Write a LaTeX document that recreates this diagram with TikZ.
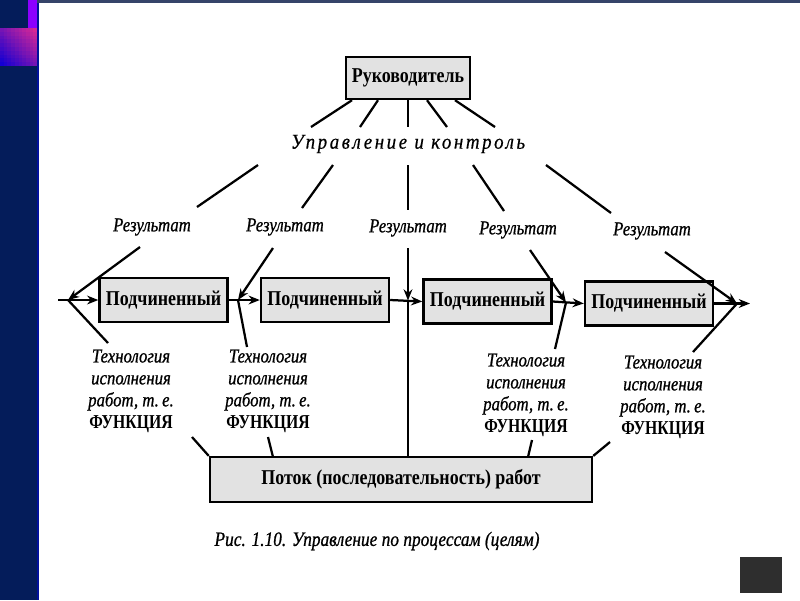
\documentclass[tikz,border=0pt]{standalone}
\usepackage{fontspec}
\setmainfont{Liberation Serif}
\newfontfamily\spacedfont[LetterSpace=12, FakeStretch=0.9, FakeBold=0.4]{Liberation Serif}
\newfontfamily\narrowfont[FakeStretch=0.85]{Liberation Serif}
\newfontfamily\capsfont[FakeStretch=0.8]{Liberation Serif}
\newfontfamily\labelfont[FakeStretch=0.85, FakeBold=0.8]{Liberation Serif}
\usetikzlibrary{arrows.meta, positioning}

\definecolor{navy}{RGB}{4,28,90}
\definecolor{violet}{RGB}{140,0,255}
\definecolor{deepblue}{RGB}{20,0,210}
\definecolor{pinkish}{RGB}{215,40,150}
\definecolor{boxfill}{RGB}{226,226,226}

\tikzset{
    box/.style={draw, line width=1.7pt, fill=boxfill, inner sep=0pt,
        font=\fontsize{15}{17}\selectfont\narrowfont\bfseries},
    subbox/.style={box, minimum width=3.2cm, minimum height=1.1cm},
    result/.style={inner sep=0pt, font=\fontsize{14}{16}\selectfont\labelfont\itshape},
    tech/.style={inner sep=0pt, align=center,
        font=\fontsize{14}{15.6}\selectfont\labelfont\itshape},
    ln/.style={line width=1.6pt},
    arr/.style={ln, -{Stealth[length=2.8mm, width=2.2mm]}},
}

\begin{document}
\begin{tikzpicture}[x=0.025cm, y=-0.025cm]

    \useasboundingbox (0,0) rectangle (800,600);

    % slide frame
    \fill[white] (0,0) rectangle (800,600);
    \fill[navy] (0,0) rectangle (37,600);
    \fill[violet] (28,0) rectangle (37,28);
    \foreach \i in {0,...,9}
        \foreach \j in {0,...,9} {
            \pgfmathtruncatemacro\p{(\i+9-\j)*100/18}
            \fill[pinkish!\p!deepblue] (\i*3.7,28+\j*3.8) rectangle ++(3.8,3.9);
        }
    \fill[blue!40!navy] (37,0) rectangle (38.5,600);
    \fill[navy!60!gray] (37,0) rectangle (800,2.5);
    \fill[black!82] (740,557) rectangle (782,593);

    % nodes
    \node[box, minimum width=3.1cm, minimum height=1.05cm] (boss) at (408,78) {Руководитель};
    \node[inner sep=0pt, font=\fontsize{15}{17}\selectfont\spacedfont\itshape] (ctl) at (408,144) {Управление и контроль};

    \foreach \n/\x/\y in {1/152/227, 2/285/227, 3/408/228, 4/518/230, 5/652/231}
        \node[result] (r\n) at (\x,\y) {Результат};

    \node[subbox] (s1) at (163.5,300) {Подчиненный};
    \node[subbox] (s2) at (325,300)   {Подчиненный};
    \node[subbox] (s3) at (487.5,301.5) {Подчиненный};
    \node[subbox] (s4) at (649,303.5) {Подчиненный};

    \foreach \n/\x/\y in {1/131/391, 2/268/391, 3/526/395, 4/663/397}
        \node[tech] (t\n) at (\x,\y) {Технология\\исполнения\\работ, т.\,е.\\\capsfont\upshape\bfseries ФУНКЦИЯ};

    \node[box, minimum width=9.55cm, minimum height=1.12cm] (flow) at (401,479.5) {Поток (последовательность) работ};

    \node[inner sep=0pt, font=\fontsize{14.5}{16}\selectfont\labelfont\itshape] (cap) at (377,541) {Рис. 1.10. Управление по процессам (целям)};

    % junctions on the row
    \coordinate (in)  at (58,300);
    \coordinate (j1)  at (68,300);
    \coordinate (j2)  at (238,300);
    \coordinate (j3)  at (408,300.5);
    \coordinate (j4)  at (566,302.5);
    \coordinate (j5)  at (737,303.5);
    \coordinate (out) at (750,303.5);

    % control fan
    \foreach \dx/\ex in {-56/311, -30/360, 0/408, 19/447, 47/495}
        \draw[ln] ([xshift=\dx*0.025cm]boss.south) -- (\ex,127);
    \foreach \sx/\ex/\ey in {258/197/207, 333/302/208, 408/408/210, 473/504/211, 546/611/213}
        \draw[ln] (\sx,165) -- (\ex,\ey);

    % results into the row
    \draw[arr] (140,247) -- (j1);
    \draw[arr] (273,248) -- (j2);
    \draw[arr] (408,248) -- (j3);
    \draw[arr] (530,250) -- (j4);
    \draw[arr] (665,252) -- (j5);

    % work flow
    \draw[arr] (in) -- (s1.west);
    \draw[arr] (s1.east) -- (s2.west);
    \draw[arr] (s2.east) -- (s3.west);
    \draw[arr] (s3.east) -- (s4.west);
    \draw[arr] (s4.east) -- (out);

    % technology
    \draw[ln] (j1) -- (108,343);
    \draw[ln] (j2) -- (247,347);
    \draw[ln] (j4) -- (555,349);
    \draw[ln] (j5) -- (693,352);

    % into the flow box
    \draw[ln] (j3) -- (j3 |- flow.north);
    \draw[ln] (192,437) -- (flow.north west);
    \draw[ln] (268,437) -- (273,457);
    \draw[ln] (532,440) -- (528,457);
    \draw[ln] (610,442) -- (flow.north east);

\end{tikzpicture}
\end{document}
